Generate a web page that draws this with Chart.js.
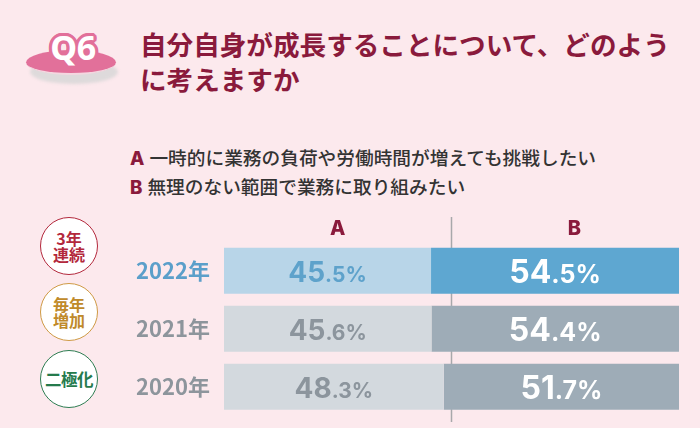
<!DOCTYPE html>
<html lang="ja">
<head>
<meta charset="utf-8">
<script src="https://cdn.jsdelivr.net/npm/chart.js@4.4.1/dist/chart.umd.min.js"></script>
<style>
    html, body { margin: 0; padding: 0; }
    body {
        width: 700px; height: 428px; overflow: hidden; position: relative;
        background: #fce9ed;
        font-family: 'Noto Sans CJK JP', sans-serif;
    }
    .badge-shadow {
        position: absolute; left: 30px; top: 60px; width: 88px; height: 24px;
        border-radius: 50%; background: #dedadb; filter: blur(1.5px);
    }
    .badge {
        position: absolute; left: 26px; top: 50px; width: 90px; height: 23px;
        border-radius: 50%; background: #e2709a;
        border-bottom: 2px solid #f4d7e0;
    }
    .badge-text {
        position: absolute; left: 38px; top: 25px; width: 70px; text-align: center;
        font-family: 'Noto Sans', sans-serif; font-weight: 700; font-size: 34px; line-height: 44px;
        color: #fff; letter-spacing: -0.5px;
        text-shadow:
            3px 0 0 #e2709a, -3px 0 0 #e2709a, 0 3px 0 #e2709a, 0 -3px 0 #e2709a,
            2px 2px 0 #e2709a, -2px 2px 0 #e2709a, 2px -2px 0 #e2709a, -2px -2px 0 #e2709a,
            3px 1px 0 #e2709a, -3px 1px 0 #e2709a, 1px 3px 0 #e2709a, -1px 3px 0 #e2709a,
            3px -1px 0 #e2709a, -3px -1px 0 #e2709a, 1px -3px 0 #e2709a, -1px -3px 0 #e2709a;
    }
    .title {
        position: absolute; left: 140px; top: 26px; width: 560px;
        font-size: 26.6px; font-weight: 700; line-height: 35px; color: #8a1a3c;
        white-space: nowrap;
    }
    .legend {
        position: absolute; left: 130px; top: 143px;
        font-size: 18.7px; font-weight: 500; line-height: 27px; color: #333;
        white-space: nowrap;
    }
    .legend b { color: #8a1a3c; font-family: Inter, sans-serif; font-weight: 800; margin-right: 5px; }
    .mark {
        position: absolute; left: 40px; width: 56px; height: 56px;
        border: 1.7px solid; border-radius: 50%; background: #fff;
        display: flex; align-items: center; justify-content: center; text-align: center;
        font-size: 16px; font-weight: 700; line-height: 16.5px;
    }
    .m1 { top: 217px; color: #b3283c; border-color: #b3283c; }
    .m2 { top: 283px; color: #c08a2a; border-color: #cf9a45; }
    .m3 { top: 350px; color: #257a4c; border-color: #2e7d52; font-size: 16.5px; letter-spacing: -0.5px; }
    #wrap { position: absolute; left: 0; top: 200px; width: 700px; height: 228px; }
</style>
</head>
<body>
<div class="badge-shadow"></div>
<div class="badge"></div>
<div class="badge-text">Q6</div>
<div class="title">自分自身が成長することについて、どのよう<br>に考えますか</div>
<div class="legend">
    <div><b>A</b>一時的に業務の負荷や労働時間が増えても挑戦したい</div>
    <div><b>B</b>無理のない範囲で業務に取り組みたい</div>
</div>
<div class="mark m1">3年<br>連続</div>
<div class="mark m2">毎年<br>増加</div>
<div class="mark m3">二極化</div>
<div id="wrap"><canvas id="chart"></canvas></div>

<script>
    // データ
    var years = ['2022年', '2021年', '2020年'];
    var seriesNames = ['A', 'B'];
    var valuesA = [45.5, 45.6, 48.3];
    var valuesB = [54.5, 54.4, 51.7];

    // 見た目
    var yearColors = ['#5b9fca', '#8d959c', '#8d959c'];
    var barColorsA = ['#b8d5e8', '#d3d9de', '#d3d9de'];
    var barColorsB = ['#5ea7d1', '#9eacb7', '#9eacb7'];
    var textColorsA = ['#5ea2cb', '#8c959d', '#8c959d'];
    var textColorsB = ['#ffffff', '#ffffff', '#ffffff'];
    var headerPos = [25, 77];
    var labelFonts = [{ big: 28, small: 21 }, { big: 32, small: 25 }];
    var dark = '#8a1a3c';

    var middleLine = {
        id: 'middleLine',
        beforeDatasetsDraw: function (chart) {
            var ctx = chart.ctx;
            var x = chart.scales.x.getPixelForValue(50);
            ctx.save();
            ctx.strokeStyle = '#a8a8ab';
            ctx.lineWidth = 1.5;
            ctx.beginPath();
            ctx.moveTo(x, 17);
            ctx.lineTo(x, 222);
            ctx.stroke();
            ctx.restore();
        }
    };

    var headers = {
        id: 'headers',
        afterDraw: function (chart) {
            var ctx = chart.ctx;
            ctx.save();
            ctx.fillStyle = dark;
            ctx.font = '800 20px Inter';
            ctx.textAlign = 'center';
            ctx.textBaseline = 'alphabetic';
            seriesNames.forEach(function (name, i) {
                ctx.fillText(name, chart.scales.x.getPixelForValue(headerPos[i]), 35);
            });
            ctx.restore();
        }
    };

    var valueLabels = {
        id: 'valueLabels',
        afterDatasetsDraw: function (chart) {
            var ctx = chart.ctx;
            chart.data.datasets.forEach(function (ds, di) {
                var meta = chart.getDatasetMeta(di);
                var f = labelFonts[di];
                var colors = di === 0 ? textColorsA : textColorsB;
                meta.data.forEach(function (bar, i) {
                    var p = bar.getProps(['x', 'y', 'base'], true);
                    var parts = ds.data[i].toFixed(1).split('.');
                    var big = parts[0];
                    var small = '.' + parts[1] + '%';
                    ctx.save();
                    ctx.fillStyle = colors[i];
                    ctx.textBaseline = 'alphabetic';
                    ctx.textAlign = 'left';
                    ctx.font = '700 ' + f.big + 'px Inter';
                    var wb = ctx.measureText(big).width;
                    ctx.font = '700 ' + f.small + 'px Inter';
                    var ws = ctx.measureText(small).width;
                    var x0 = (p.x + p.base) / 2 - (wb + ws) / 2;
                    var baseY = p.y + f.big * 0.727 / 2 + 1;
                    ctx.font = '700 ' + f.big + 'px Inter';
                    ctx.fillText(big, x0, baseY);
                    ctx.font = '700 ' + f.small + 'px Inter';
                    ctx.fillText(small, x0 + wb, baseY);
                    ctx.restore();
                });
            });
        }
    };

    var config = {
        type: 'bar',
        data: {
            labels: years,
            datasets: [{
                label: seriesNames[0],
                data: valuesA,
                backgroundColor: barColorsA,
                borderWidth: 0,
                barPercentage: 0.79,
                categoryPercentage: 1
            }, {
                label: seriesNames[1],
                data: valuesB,
                backgroundColor: barColorsB,
                borderWidth: 0,
                barPercentage: 0.79,
                categoryPercentage: 1
            }]
        },
        options: {
            indexAxis: 'y',
            responsive: true,
            maintainAspectRatio: false,
            animation: false,
            layout: {
                padding: { left: 0, right: 21, top: 41.75, bottom: 12.25 }
            },
            plugins: {
                legend: { display: false },
                tooltip: { enabled: false }
            },
            scales: {
                x: {
                    stacked: true,
                    min: 0,
                    max: 100,
                    display: false
                },
                y: {
                    stacked: true,
                    border: { display: false },
                    grid: { display: false, drawTicks: false },
                    afterFit: function (scale) {
                        scale.width = 224;
                        scale.paddingTop = 0;
                        scale.paddingBottom = 0;
                    },
                    ticks: {
                        padding: 14,
                        color: function (c) { return yearColors[c.index]; },
                        font: { family: "'Noto Sans CJK JP'", weight: '700', size: 22 }
                    }
                }
            }
        },
        plugins: [middleLine, valueLabels, headers]
    };

    var ctx = document.getElementById('chart').getContext('2d');
    var chart = new Chart(ctx, config);
</script>
</body>
</html>
